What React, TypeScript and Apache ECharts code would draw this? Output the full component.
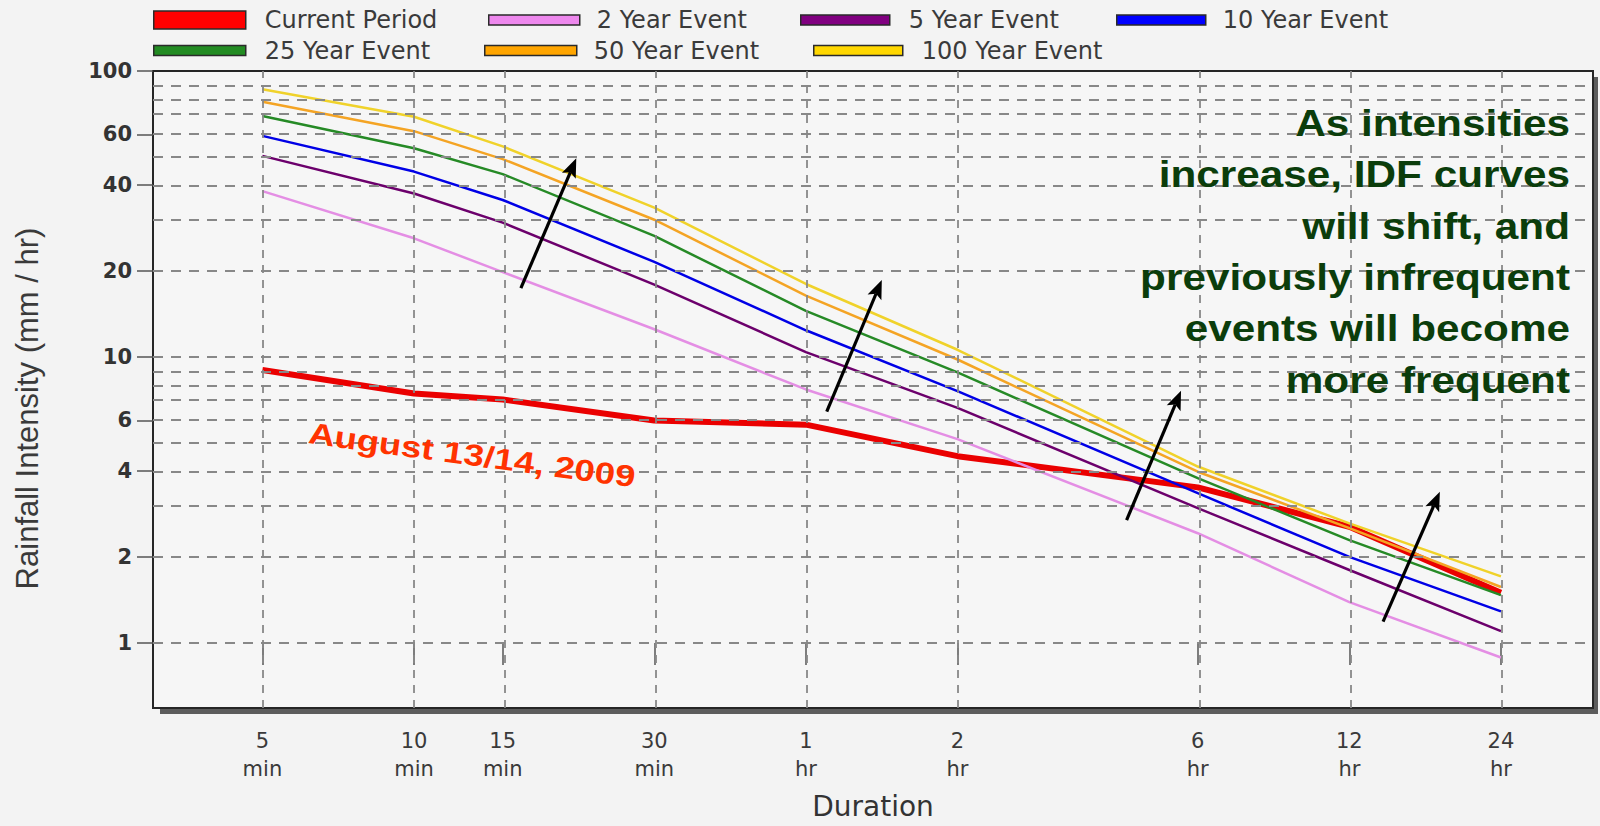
import React, { useEffect, useRef } from 'react';
import * as echarts from 'echarts';

// ---------- data ----------
const durations = [5, 10, 15, 30, 60, 120, 360, 720, 1440]; // minutes
const durationLabels = ['5\nmin', '10\nmin', '15\nmin', '30\nmin', '1\nhr', '2\nhr', '6\nhr', '12\nhr', '24\nhr'];
const intensityTicks = [1, 2, 4, 6, 10, 20, 40, 60, 100];
const intensityGrid = [1, 2, 3, 4, 5, 6, 7, 8, 9, 10, 20, 30, 40, 50, 60, 70, 80, 90];
const durationRange = [3.0318, 2193.5];
const intensityRange = [0.5925, 100];

const seriesNames = ['Current Period', '2 Year Event', '5 Year Event', '10 Year Event', '25 Year Event', '50 Year Event', '100 Year Event'];
const currentPeriod = [9.0, 7.45, 7.1, 6.0, 5.8, 4.5, 3.5, 2.55, 1.5];
const year2 = [38.0, 26.0, 19.8, 12.5, 7.7, 5.16, 2.42, 1.39, 0.89];
const year5 = [50.5, 37.3, 29.5, 17.9, 10.4, 6.64, 2.96, 1.8, 1.1];
const year10 = [59.3, 44.5, 35.4, 21.5, 12.4, 7.6, 3.34, 2.0, 1.29];
const year25 = [69.6, 53.7, 43.6, 26.5, 14.5, 8.83, 3.77, 2.29, 1.47];
const year50 = [78.1, 61.6, 49.2, 30.2, 16.4, 9.8, 3.97, 2.52, 1.57];
const year100 = [86.3, 69.2, 54.5, 33.3, 18.0, 10.6, 4.14, 2.62, 1.71];

// annotation arrows (duration in minutes, intensity in mm/hr)
const arrowFrom = [[16.3, 17.4], [66, 6.44], [260, 2.69], [840, 1.187]];
const arrowTo = [[21.0, 49.5], [84.9, 18.6], [333.5, 7.62], [1089, 3.38]];

const annotationText = 'As intensities\nincrease, IDF curves\nwill shift, and\npreviously infrequent\nevents will become\nmore frequent';
const eventLabel = 'August 13/14, 2009';

// ---------- styles ----------
const seriesValues = [currentPeriod, year2, year5, year10, year25, year50, year100];
const seriesColors = ['#ea0000', '#e48ee4', '#6c006c', '#0000e6', '#268a26', '#f4a424', '#f0d22a'];
const swatchColors = ['#ff0000', '#ee88ee', '#800080', '#0000ff', '#228b22', '#ffa500', '#ffd700'];
const seriesWidths = [6, 2.5, 2.5, 2.5, 2.5, 2.5, 2.5];
const legendLayout = [
  { left: 153, top: 8, w: 92, h: 18 },
  { left: 488, top: 8, w: 91, h: 10 },
  { left: 800, top: 8, w: 89, h: 10 },
  { left: 1116, top: 8, w: 89, h: 10 },
  { left: 153, top: 38.5, w: 92, h: 10 },
  { left: 484, top: 38.5, w: 92, h: 10 },
  { left: 813, top: 38.5, w: 89, h: 10 },
];
const legendTextStarts = [264, 596, 908, 1222, 264, 593, 921];

const lg = (v: number) => Math.log10(v);

const baseGraphics: any[] = [
  { type: 'rect', z: 0, silent: true, shape: { x: 160, y: 709, width: 1438, height: 5 }, style: { fill: '#5c5c5c' } },
  { type: 'rect', z: 0, silent: true, shape: { x: 1594, y: 77, width: 4, height: 637 }, style: { fill: '#5c5c5c' } },
  {
    type: 'text',
    z: 100,
    x: 1570,
    y: 97,
    scaleX: 1.143,
    silent: true,
    style: {
      text: annotationText,
      fill: '#0b3d0b',
      fontFamily: 'Liberation Sans',
      fontWeight: 'bold',
      fontSize: 37,
      lineHeight: 51.4,
      align: 'right',
      verticalAlign: 'top',
      textAlign: 'right',
      textVerticalAlign: 'top',
    },
  },
  {
    type: 'text',
    z: 100,
    x: 472,
    y: 455,
    rotation: -0.135,
    scaleX: 1.22,
    silent: true,
    style: {
      text: eventLabel,
      fill: '#ff3300',
      fontFamily: 'Liberation Sans',
      fontWeight: 'bold',
      fontSize: 30,
      align: 'center',
      verticalAlign: 'middle',
      textAlign: 'center',
      textVerticalAlign: 'middle',
    },
  },
];

function buildOption() {
  const series: any[] = [];

  // grid lines (dashed) as mark lines
  series.push({
    type: 'line',
    name: '__grid',
    data: [],
    z: 1,
    silent: true,
    markLine: {
      silent: true,
      symbol: ['none', 'none'],
      label: { show: false },
      emphasis: { disabled: true },
      animation: false,
      data: [
        ...intensityGrid.map((v) => ({
          yAxis: lg(v),
          lineStyle: { type: [10, 8], color: '#888888', width: 1.8 },
        })),
        ...durations.map((d) => ({
          xAxis: lg(d),
          lineStyle: { type: [8, 7], color: '#888888', width: 1.8 },
        })),
      ],
    },
  });

  seriesValues.forEach((vals, i) => {
    series.push({
      type: 'line',
      name: seriesNames[i],
      data: durations.map((d, j) => [lg(d), lg(vals[j])]),
      showSymbol: false,
      symbol: 'none',
      z: 2,
      color: seriesColors[i],
      lineStyle: { color: seriesColors[i], width: seriesWidths[i] },
      itemStyle: { color: swatchColors[i] },
      emphasis: { disabled: true },
    });
  });

  const legends = seriesNames.map((name, i) => ({
    show: true,
    data: [name],
    left: legendLayout[i].left,
    top: legendLayout[i].top,
    orient: 'horizontal',
    selectedMode: false,
    icon: 'rect',
    itemWidth: legendLayout[i].w,
    itemHeight: legendLayout[i].h,
    padding: 0,
    itemStyle: { color: swatchColors[i], borderColor: '#2a2a2a', borderWidth: 1.5 },
    textStyle: {
      fontFamily: 'DejaVu Sans',
      fontSize: 24,
      color: '#3a3a3a',
      padding: [0, 0, 0, legendTextStarts[i] - legendLayout[i].left - legendLayout[i].w - 5],
    },
  }));

  const xTickVals = durations.map(lg);
  const yTickVals = intensityTicks.map(lg);

  return {
    animation: false,
    backgroundColor: '#f3f3f3',
    legend: legends,
    grid: {
      left: 153,
      top: 71,
      right: 7,
      bottom: 118,
      show: true,
      backgroundColor: '#f6f6f6',
      borderColor: '#262626',
      borderWidth: 2,
      containLabel: false,
      outerBoundsMode: 'none',
    },
    xAxis: {
      type: 'value',
      min: lg(durationRange[0]),
      max: lg(durationRange[1]),
      axisLine: { show: false },
      splitLine: { show: false },
      axisTick: {
        show: true,
        customValues: xTickVals,
        length: 22,
        inside: false,
        lineStyle: { color: '#555', width: 1.5 },
      },
      axisLabel: {
        customValues: xTickVals,
        formatter: (v: number) => {
          const i = xTickVals.findIndex((t) => Math.abs(t - v) < 1e-6);
          return i >= 0 ? durationLabels[i] : '';
        },
        margin: 19,
        fontFamily: 'DejaVu Sans',
        fontSize: 21,
        lineHeight: 28,
        color: '#3a3a3a',
      },
      name: 'Duration',
      nameLocation: 'middle',
      nameGap: 84,
      nameTextStyle: { fontFamily: 'DejaVu Sans', fontSize: 28, color: '#333' },
    },
    yAxis: {
      type: 'value',
      min: lg(intensityRange[0]),
      max: lg(intensityRange[1]),
      axisLine: { show: false },
      splitLine: { show: false },
      axisTick: {
        show: true,
        customValues: yTickVals,
        length: 16,
        inside: false,
        lineStyle: { color: '#555', width: 1.5 },
      },
      axisLabel: {
        customValues: yTickVals,
        formatter: (v: number) => String(Math.round(Math.pow(10, v))),
        margin: 21,
        fontFamily: 'DejaVu Sans',
        fontWeight: 'bold',
        fontSize: 21,
        color: '#333',
      },
      name: 'Rainfall Intensity (mm / hr)',
      nameLocation: 'middle',
      nameGap: 110,
      nameRotate: 90,
      nameTextStyle: { fontFamily: 'Liberation Sans', fontSize: 31, color: '#3a3a3a', padding: [0, 38, 0, 0] },
    },
    graphic: { elements: baseGraphics },
    series,
  };
}

function arrowGraphics(chart: any) {
  const out: any[] = [];
  arrowFrom.forEach((f, i) => {
    const p1 = chart.convertToPixel({ gridIndex: 0 }, [lg(f[0]), lg(f[1])]);
    const p2 = chart.convertToPixel({ gridIndex: 0 }, [lg(arrowTo[i][0]), lg(arrowTo[i][1])]);
    if (!p1 || !p2) return;
    const dx = p2[0] - p1[0];
    const dy = p2[1] - p1[1];
    const len = Math.sqrt(dx * dx + dy * dy) || 1;
    const ux = dx / len;
    const uy = dy / len;
    const nx = -uy;
    const ny = ux;
    const headLen = 19;
    const headHalf = 7.5;
    const bx = p2[0] - ux * headLen;
    const by = p2[1] - uy * headLen;
    out.push({
      type: 'line',
      z: 90,
      silent: true,
      shape: { x1: p1[0], y1: p1[1], x2: bx + ux * 4, y2: by + uy * 4 },
      style: { stroke: '#000', lineWidth: 3.2 },
    });
    out.push({
      type: 'polygon',
      z: 91,
      silent: true,
      shape: {
        points: [
          [p2[0], p2[1]],
          [bx + nx * headHalf, by + ny * headHalf],
          [bx + ux * 4, by + uy * 4],
          [bx - nx * headHalf, by - ny * headHalf],
        ],
      },
      style: { fill: '#000' },
    });
  });
  return out;
}

export default function App() {
  const ref = useRef<HTMLDivElement>(null);
  useEffect(() => {
    if (!ref.current) return;
    const chart = echarts.init(ref.current, undefined, { renderer: 'svg' });
    chart.setOption(buildOption() as any);
    chart.setOption({ graphic: { elements: [...baseGraphics, ...arrowGraphics(chart)] } } as any);
    return () => chart.dispose();
  }, []);
  return (
    <div
      ref={ref}
      style={{ position: 'fixed', left: 0, top: 0, width: 1600, height: 826, background: '#f3f3f3' }}
    />
  );
}
